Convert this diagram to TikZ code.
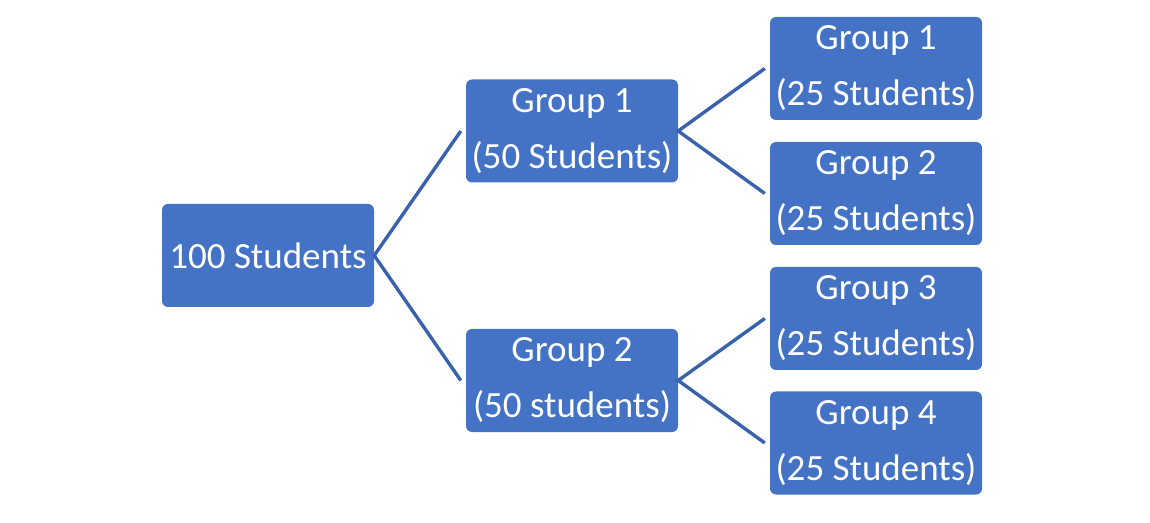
\documentclass[tikz,border=0pt]{standalone}
\usepackage{fontspec}
\setmainfont{Carlito}
\definecolor{boxblue}{HTML}{4472C4}
\definecolor{lineblue}{HTML}{3A62AA}
\begin{document}
\begin{tikzpicture}[x=1pt,y=1pt,
  box/.style={rectangle, rounded corners=6pt, fill=boxblue, draw=none,
    minimum width=212pt, minimum height=103pt, inner sep=0pt,
    text=white, align=center, font=\fontsize{37}{56}\selectfont},
  link/.style={draw=lineblue, line width=3.4pt}]
\useasboundingbox (0,0) rectangle (1150,522);
\node[box] (root) at (268,266.5) {100 Students};
\node[box] (g1) at (572,391) {Group 1\\(50 Students)};
\node[box] (g2) at (572,141.5) {Group 2\\(50 students)};
\node[box] (b1) at (876,453.5) {Group 1\\(25 Students)};
\node[box] (b2) at (876,328.5) {Group 2\\(25 Students)};
\node[box] (b3) at (876,203.5) {Group 3\\(25 Students)};
\node[box] (b4) at (876,79) {Group 4\\(25 Students)};
\coordinate (g1in) at ([xshift=-5pt]g1.west);
\coordinate (g2in) at ([xshift=-5pt]g2.west);
\coordinate (b1in) at ([xshift=-5pt]b1.west);
\coordinate (b2in) at ([xshift=-5pt]b2.west);
\coordinate (b3in) at ([xshift=-5pt]b3.west);
\coordinate (b4in) at ([xshift=-5pt]b4.west);
\draw[link] (g1in) -- (root.east) -- (g2in);
\draw[link] (b1in) -- (g1.east) -- (b2in);
\draw[link] (b3in) -- (g2.east) -- (b4in);
\end{tikzpicture}
\end{document}
